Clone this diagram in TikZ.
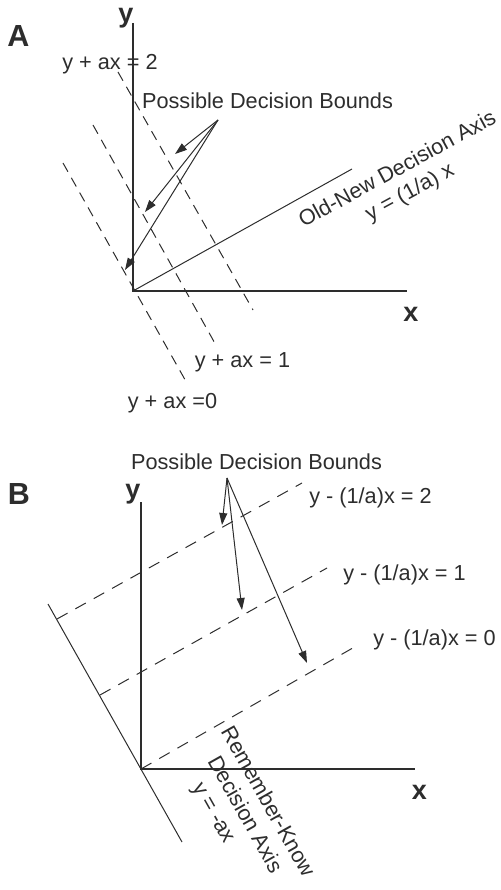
\documentclass[tikz,border=0pt]{standalone}
\usepackage{fontspec}
\setmainfont{Liberation Sans}
\usetikzlibrary{arrows.meta}
\definecolor{ink}{RGB}{45,45,45}

\begin{document}
\begin{tikzpicture}[x=1pt, y=-1pt, font=\fontsize{21.7}{26}\selectfont, text=ink, axis/.style={draw=ink, line width=1.3pt}, bound/.style={draw=ink, line width=1pt, dash pattern=on 10pt off 7pt}, boundB/.style={bound, dash pattern=on 12pt off 9pt}, arr/.style={-{Triangle[length=12pt,width=8pt]}, draw=ink, line width=1pt}, panel/.style={font=\fontsize{30.5}{30}\selectfont\bfseries}, axlabel/.style={font=\fontsize{27}{27}\selectfont\bfseries}]
\useasboundingbox (0,0) rectangle (500,890);
\coordinate (oA) at (133,291);
\coordinate (yA) at (133,23);
\coordinate (xA) at (407,291);
\coordinate (onA) at (352,169);
\coordinate (b2s) at (118,72);
\coordinate (b2e) at (253,310);
\coordinate (b1s) at (93,125);
\coordinate (b1e) at (217,347);
\coordinate (b0s) at (63,163);
\coordinate (b0e) at (188,385);
\coordinate (apA) at (218,120);
\coordinate (tA2) at (175,154);
\coordinate (tA1) at (145,212);
\coordinate (tA0) at (125,270);
\node[panel] (labA) at (18.5,36) {A};
\node[axlabel] (yAlab) at (126,18) {y};
\node[axlabel] (xAlab) at (411,314) {x};
\node (eqA2) at (110,64) {y + ax = 2};
\node (eqA1) at (242.5,362) {y + ax = 1};
\node (eqA0) at (172.5,403) {y + ax =0};
\node (pdbA) at (267.5,100.5) {Possible Decision Bounds};
\node[rotate=28.5, align=center] (onlab) at (404,181.5) {Old-New Decision Axis\\y = (1/a) x};
\draw[axis] (yA) -- (oA) -- (xA);
\draw[draw=ink, line width=1pt] (oA) -- (onA);
\draw[bound] (b2s) -- (b2e);
\draw[bound] (b1s) -- (b1e);
\draw[bound] (b0s) -- (b0e);
\draw[arr] (apA) -- (tA2);
\draw[arr] (apA) -- (tA1);
\draw[arr] (apA) -- (tA0);
\coordinate (oB) at (141,769);
\coordinate (yB) at (141,502);
\coordinate (xB) at (415,769);
\coordinate (rkS) at (48,604);
\coordinate (rkE) at (182,842);
\coordinate (c2s) at (57,619);
\coordinate (c2e) at (302,483);
\coordinate (c1s) at (100,695);
\coordinate (c1e) at (327,568);
\coordinate (c0e) at (358,645);
\coordinate (apB) at (227,478);
\coordinate (tB2) at (222,525);
\coordinate (tB1) at (242,610);
\coordinate (tB0) at (307,663);
\node[panel] (labB) at (19,494) {B};
\node[axlabel] (yBlab) at (133,494) {y};
\node[axlabel] (xBlab) at (419.5,792) {x};
\node (eqB2) at (370.5,497.5) {y - (1/a)x = 2};
\node (eqB1) at (404.5,574.5) {y - (1/a)x = 1};
\node (eqB0) at (434.5,639.5) {y - (1/a)x = 0};
\node (pdbB) at (256.5,461.5) {Possible Decision Bounds};
\node[rotate=-60.6, align=center] (rklab) at (244,815) {Remember-Know\\Decision Axis\\y = -ax\hspace*{34pt}};
\draw[axis] (yB) -- (oB) -- (xB);
\draw[draw=ink, line width=1pt] (rkS) -- (rkE);
\draw[boundB] (c2s) -- (c2e);
\draw[boundB] (c1s) -- (c1e);
\draw[boundB] (oB) -- (c0e);
\draw[arr] (apB) -- (tB2);
\draw[arr] (apB) -- (tB1);
\draw[arr] (apB) -- (tB0);
\end{tikzpicture}
\end{document}
